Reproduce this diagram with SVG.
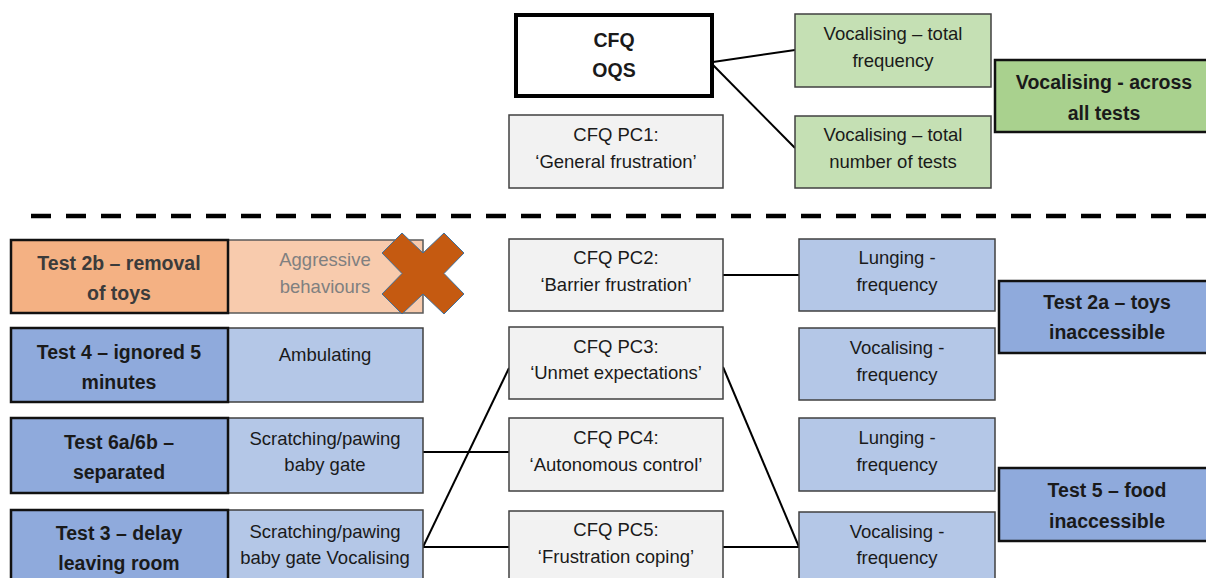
<svg xmlns="http://www.w3.org/2000/svg" width="1206" height="578" viewBox="0 0 1206 578">
<style>
text{font-family:"Liberation Sans",Arial,sans-serif;font-size:18.5px;fill:#1a1a1a;text-anchor:middle}
text.b{font-weight:bold;font-size:19.5px}
.n{stroke:#404040;stroke-width:1.5}
.k{stroke:#111;stroke-width:2.5}
.gray{fill:#f2f2f2}
.g1{fill:#c5e0b4}
.g2{fill:#a9d18e}
.b1{fill:#b4c7e7}
.b2{fill:#8faadc}
.o1{fill:#f4b183}
.o2{fill:#f8cbad}
.c{stroke:#000;stroke-width:2;fill:none}
</style>
<rect width="1206" height="578" fill="#fff"/>
<g id="connectors">
<line class="c" x1="713" y1="62" x2="795" y2="50"/>
<line class="c" x1="713" y1="65" x2="795" y2="148"/>
<line class="c" x1="723" y1="275" x2="799" y2="275"/>
<line class="c" x1="423" y1="452" x2="509" y2="452"/>
<line class="c" x1="423" y1="547" x2="509" y2="368"/>
<line class="c" x1="423" y1="547" x2="509" y2="547"/>
<line class="c" x1="723" y1="367" x2="799" y2="547"/>
<line class="c" x1="723" y1="547" x2="799" y2="547"/>
</g>
<line id="divider" x1="31" y1="216" x2="1206" y2="216" stroke="#000" stroke-width="4.5" stroke-dasharray="20 15"/>
<g id="cfq-oqs"><rect x="516" y="15" width="196" height="81" fill="#fff" stroke="#000" stroke-width="4"/><text class="b" x="614" y="47">CFQ</text><text class="b" x="614" y="77">OQS</text></g>
<g id="pc1"><rect class="gray n" x="509" y="115" width="214" height="73"/><text x="616" y="141">CFQ PC1:</text><text x="616" y="168">‘General frustration’</text></g>
<g id="voc-total-freq"><rect class="g1 n" x="795" y="14" width="196" height="73"/><text x="893" y="40">Vocalising – total</text><text x="893" y="67">frequency</text></g>
<g id="voc-total-tests"><rect class="g1 n" x="795" y="116" width="196" height="72"/><text x="893" y="141">Vocalising – total</text><text x="893" y="168">number of tests</text></g>
<g id="voc-all"><rect class="g2 k" x="995" y="60" width="222" height="72"/><text class="b" x="1104" y="89">Vocalising - across</text><text class="b" x="1104" y="120">all tests</text></g>
<g id="test2b"><rect class="o2" x="228" y="240" width="195" height="73" stroke="#595959" stroke-width="1.5"/><text x="325" y="266" style="fill:#808080">Aggressive</text><text x="325" y="293" style="fill:#808080">behaviours</text><rect class="o1 k" x="11" y="240" width="217" height="73"/><text class="b" x="119" y="270" style="fill:#3b3b3b">Test 2b – removal</text><text class="b" x="119" y="300" style="fill:#3b3b3b">of toys</text>
<polygon points="402,233 423,253 444,233 464,253 444,273.5 464,294 444,314 423,294 402,314 382,294 402,273.5 382,253" fill="#c55a11" stroke="#41719c" stroke-width="1"/></g>
<g id="test4"><rect class="b1 n" x="228" y="328" width="195" height="74"/><text x="325" y="361">Ambulating</text><rect class="b2 k" x="11" y="328" width="217" height="74"/><text class="b" x="119" y="359">Test 4 – ignored 5</text><text class="b" x="119" y="389">minutes</text></g>
<g id="test6"><rect class="b1 n" x="228" y="418" width="195" height="75"/><text x="325" y="445">Scratching/pawing</text><text x="325" y="471">baby gate</text><rect class="b2 k" x="11" y="418" width="217" height="75"/><text class="b" x="119" y="449">Test 6a/6b –</text><text class="b" x="119" y="479">separated</text></g>
<g id="test3"><rect class="b1 n" x="228" y="510" width="195" height="80"/><text x="325" y="538">Scratching/pawing</text><text x="325" y="564">baby gate Vocalising</text><rect class="b2 k" x="11" y="510" width="217" height="80"/><text class="b" x="119" y="540">Test 3 – delay</text><text class="b" x="119" y="570">leaving room</text></g>
<g id="pc2"><rect class="gray n" x="509" y="239" width="214" height="72"/><text x="616" y="264">CFQ PC2:</text><text x="616" y="291">‘Barrier frustration’</text></g>
<g id="pc3"><rect class="gray n" x="509" y="327" width="214" height="72"/><text x="616" y="353">CFQ PC3:</text><text x="616" y="379">‘Unmet expectations’</text></g>
<g id="pc4"><rect class="gray n" x="509" y="418" width="214" height="73"/><text x="616" y="444">CFQ PC4:</text><text x="616" y="471">‘Autonomous control’</text></g>
<g id="pc5"><rect class="gray n" x="509" y="511" width="214" height="80"/><text x="616" y="536">CFQ PC5:</text><text x="616" y="563">‘Frustration coping’</text></g>
<g id="lunging1"><rect class="b1 n" x="799" y="239" width="196" height="72"/><text x="897" y="264">Lunging -</text><text x="897" y="291">frequency</text></g>
<g id="vocal1"><rect class="b1 n" x="799" y="328" width="196" height="72"/><text x="897" y="354">Vocalising -</text><text x="897" y="381">frequency</text></g>
<g id="test2a"><rect class="b2 k" x="999" y="281" width="218" height="72"/><text class="b" x="1107" y="309">Test 2a – toys</text><text class="b" x="1107" y="339">inaccessible</text></g>
<g id="lunging2"><rect class="b1 n" x="799" y="418" width="196" height="73"/><text x="897" y="444">Lunging -</text><text x="897" y="471">frequency</text></g>
<g id="vocal2"><rect class="b1 n" x="799" y="512" width="196" height="80"/><text x="897" y="538">Vocalising -</text><text x="897" y="564">frequency</text></g>
<g id="test5"><rect class="b2 k" x="999" y="468" width="218" height="73"/><text class="b" x="1107" y="497">Test 5 – food</text><text class="b" x="1107" y="528">inaccessible</text></g>
</svg>
